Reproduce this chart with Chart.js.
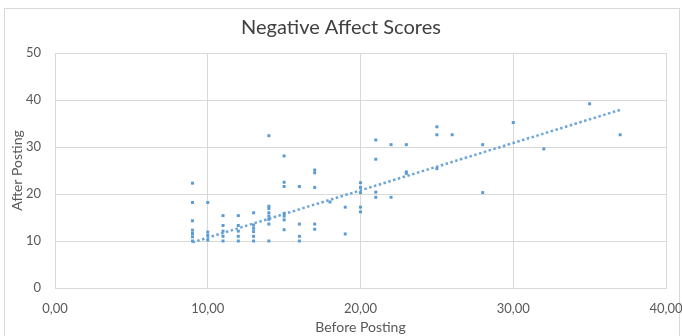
<!DOCTYPE html>
<html>
<head>
<meta charset="utf-8">
<script src="https://cdn.jsdelivr.net/npm/chart.js@4.4.0/dist/chart.umd.min.js"></script>
<style>
    html, body { margin: 0; padding: 0; background: #fff; }
    #wrap { position: relative; width: 682px; height: 336px; overflow: hidden; }
    #frame { position: absolute; left: 4px; top: 8px; width: 674px; height: 340px; border: 1px solid #d9d9d9; }
    #chart { position: absolute; left: 0; top: 0; }
</style>
</head>
<body>
<div id="wrap">
    <div id="frame"></div>
    <canvas id="chart" width="682" height="336"></canvas>
</div>
<script>
// ====== Data ======
const BEFORE = [
    9, 9, 9, 9, 9, 9, 9,
    10, 10, 10, 10,
    11, 11, 11, 11, 11,
    12, 12, 12, 12, 12,
    13, 13, 13, 13, 13, 13,
    14, 14, 14, 14, 14, 14, 14, 14,
    15, 15, 15, 15, 15, 15, 15,
    16, 16, 16, 16,
    17, 17, 17, 17, 17,
    18,
    19, 19,
    20, 20, 20, 20, 20,
    21, 21, 21, 21,
    22, 22,
    23, 23, 23,
    25, 25, 25,
    26,
    28, 28,
    30,
    32,
    35,
    37
];
const AFTER = [
    22.3, 18.2, 14.3, 12.3, 11.6, 10.9, 10,
    18.2, 11.9, 11.2, 10.2,
    15.4, 13.3, 12.1, 11, 10,
    15.4, 13.3, 12.1, 11, 10,
    16, 13.4, 12.7, 12, 11, 10,
    32.4, 17.4, 16.9, 16, 15.3, 14.6, 13.6, 10,
    28.1, 22.5, 21.6, 15.9, 15.3, 14.5, 12.4,
    21.6, 13.6, 11, 10,
    25.1, 24.5, 21.4, 13.6, 12.5,
    18.3,
    17.2, 11.5,
    22.4, 21.4, 20.3, 17.2, 16.2,
    31.5, 27.4, 20.4, 19.3,
    30.5, 19.3,
    30.5, 24.7, 24.4,
    34.3, 32.6, 25.4,
    32.6,
    30.5, 20.3,
    35.2,
    29.6,
    39.2,
    32.6
];
// trend line end points as seen in the chart
const TREND_X = [9, 37];
const TREND_Y = [9.7, 37.9];

const X_TICKS = [0, 10, 20, 30, 40];
const Y_TICKS = [0, 10, 20, 30, 40, 50];

const BLUE = '#5b9bd5';
const GRID = '#d9d9d9';
const LABEL = '#595959';
const FONT = 'Lato, "Open Sans", sans-serif';

// ---- build chart ----
const points = BEFORE.map((x, i) => ({x: x, y: AFTER[i]}));
const trend = TREND_X.map((x, i) => ({x: x, y: TREND_Y[i]}));

new Chart(document.getElementById('chart'), {
    type: 'scatter',
    data: {
        datasets: [{
                label: 'Scores',
                data: points,
                pointStyle: 'rect',
                pointRadius: 2.1,
                pointBorderWidth: 0,
                backgroundColor: BLUE,
                borderColor: BLUE,
                order: 1
            }, {
                label: 'Trend',
                type: 'line',
                data: trend,
                borderColor: 'rgba(91,155,213,0.9)',
                borderWidth: 2.5,
                borderDash: [2.5, 2.5],
                pointRadius: 0,
                fill: false,
                order: 2
            }]
    },
    options: {
        responsive: false,
        animation: false,
        layout: {padding: 0},
        plugins: {
            legend: {display: false},
            tooltip: {enabled: false},
            title: {
                display: true,
                text: 'Negative Affect Scores',
                color: '#404040',
                font: {family: FONT, size: 20, weight: 'normal'},
                padding: {top: 16, bottom: 13}
            }
        },
        scales: {
            x: {
                type: 'linear',
                min: 0,
                max: 40,
                afterBuildTicks: s => { s.ticks = X_TICKS.map(v => ({value: v})); },
                afterFit: s => {
                    s.height = 48;
                    s.paddingLeft = 0;
                    s.paddingRight = 16;
                },
                ticks: {
                    color: LABEL,
                    font: {family: FONT, size: 13},
                    padding: 13,
                    maxRotation: 0,
                    callback: v => v.toFixed(2).replace('.', ',')
                },
                grid: {color: GRID, drawTicks: false},
                border: {color: GRID},
                title: {
                    display: true,
                    text: 'Before Posting',
                    color: LABEL,
                    font: {family: FONT, size: 14},
                    padding: {top: 0, bottom: 0}
                }
            },
            y: {
                type: 'linear',
                min: 0,
                max: 50,
                afterBuildTicks: s => { s.ticks = Y_TICKS.map(v => ({value: v})); },
                afterFit: s => { s.width = 55; },
                ticks: {
                    color: LABEL,
                    font: {family: FONT, size: 13},
                    padding: 14
                },
                grid: {color: GRID, drawTicks: false},
                border: {color: GRID},
                title: {
                    display: true,
                    text: 'After Posting',
                    color: LABEL,
                    font: {family: FONT, size: 14},
                    padding: {top: 9, bottom: 0}
                }
            }
        }
    }
});
</script>
</body>
</html>
